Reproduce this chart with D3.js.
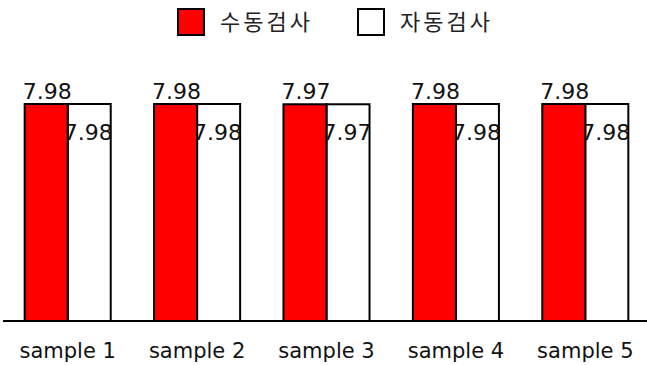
<!DOCTYPE html>
<html>
<head>
<meta charset="utf-8">
<script src="https://cdn.jsdelivr.net/npm/d3@7"></script>
<style>
  html, body { margin: 0; padding: 0; background: #fff; }
  svg { display: block; }
</style>
</head>
<body>
<div id="chart"></div>
<script>
const categories = ["sample 1", "sample 2", "sample 3", "sample 4", "sample 5"];
const seriesNames = ["수동검사", "자동검사"];
const manualValues = [7.98, 7.98, 7.97, 7.98, 7.98];
const autoValues = [7.98, 7.98, 7.97, 7.98, 7.98];
const seriesColors = ["#ff0000", "#ffffff"];

const W = 647, H = 365;
const svg = d3.select("#chart").append("svg").attr("width", W).attr("height", H);

const baseY = 321;
const x0 = d3.scaleBand().domain(categories).range([3, 650]).paddingInner(0.335).paddingOuter(0.1675);
const x1 = d3.scaleBand().domain(seriesNames).range([0, x0.bandwidth()]);
const y = d3.scaleLinear().domain([0, 7.98]).range([baseY, 104]);

const data = categories.map((c, i) => ({ cat: c, vals: [manualValues[i], autoValues[i]] }));
const numFont = "'DejaVu Sans', sans-serif";

const groups = svg.append("g").selectAll("g").data(data).join("g")
  .attr("transform", d => `translate(${x0(d.cat)},0)`);

// auto (white) bars first
groups.append("rect")
  .attr("x", x1(seriesNames[1])).attr("y", d => y(d.vals[1]))
  .attr("width", x1.bandwidth()).attr("height", d => baseY - y(d.vals[1]))
  .attr("fill", seriesColors[1]).attr("stroke", "#000").attr("stroke-width", 2);

groups.append("text")
  .attr("x", x1(seriesNames[1]) + x1.bandwidth() / 2 - 1)
  .attr("y", d => y(d.vals[1]) + 36)
  .attr("text-anchor", "middle")
  .attr("font-family", numFont).attr("font-size", 22).attr("fill", "#111")
  .text(d => d.vals[1].toFixed(2));

// manual (red) bars
groups.append("rect")
  .attr("x", x1(seriesNames[0])).attr("y", d => y(d.vals[0]))
  .attr("width", x1.bandwidth()).attr("height", d => baseY - y(d.vals[0]))
  .attr("fill", seriesColors[0]).attr("stroke", "#000").attr("stroke-width", 2);

groups.append("text")
  .attr("x", x1(seriesNames[0]) + x1.bandwidth() / 2 + 1)
  .attr("y", d => y(d.vals[0]) - 5)
  .attr("text-anchor", "middle")
  .attr("font-family", numFont).attr("font-size", 22).attr("fill", "#111")
  .text(d => d.vals[0].toFixed(2));

// x axis
const xAxis = d3.axisBottom(x0).tickSize(0).tickPadding(0);
const ax = svg.append("g").attr("transform", `translate(0,${baseY})`).call(xAxis);
ax.select(".domain").remove();
ax.selectAll("text")
  .attr("font-family", numFont).attr("font-size", 21).attr("fill", "#111")
  .attr("dy", null).attr("y", 37);
svg.append("line").attr("x1", 3).attr("x2", W).attr("y1", baseY).attr("y2", baseY)
  .attr("stroke", "#000").attr("stroke-width", 2);

// legend
const legendX = [177, 357];
const legend = svg.append("g").selectAll("g").data(seriesNames).join("g")
  .attr("transform", (d, i) => `translate(${legendX[i]},8)`);
legend.append("rect").attr("x", 1).attr("y", 1).attr("width", 26).attr("height", 26)
  .attr("fill", (d, i) => seriesColors[i]).attr("stroke", "#000").attr("stroke-width", 2);
legend.append("text").attr("x", 43).attr("y", 14).attr("dy", "0.36em")
  .attr("font-family", "'Noto Sans CJK KR', sans-serif").attr("font-size", 22)
  .attr("letter-spacing", 3).attr("fill", "#222")
  .text(d => d);
</script>
</body>
</html>
